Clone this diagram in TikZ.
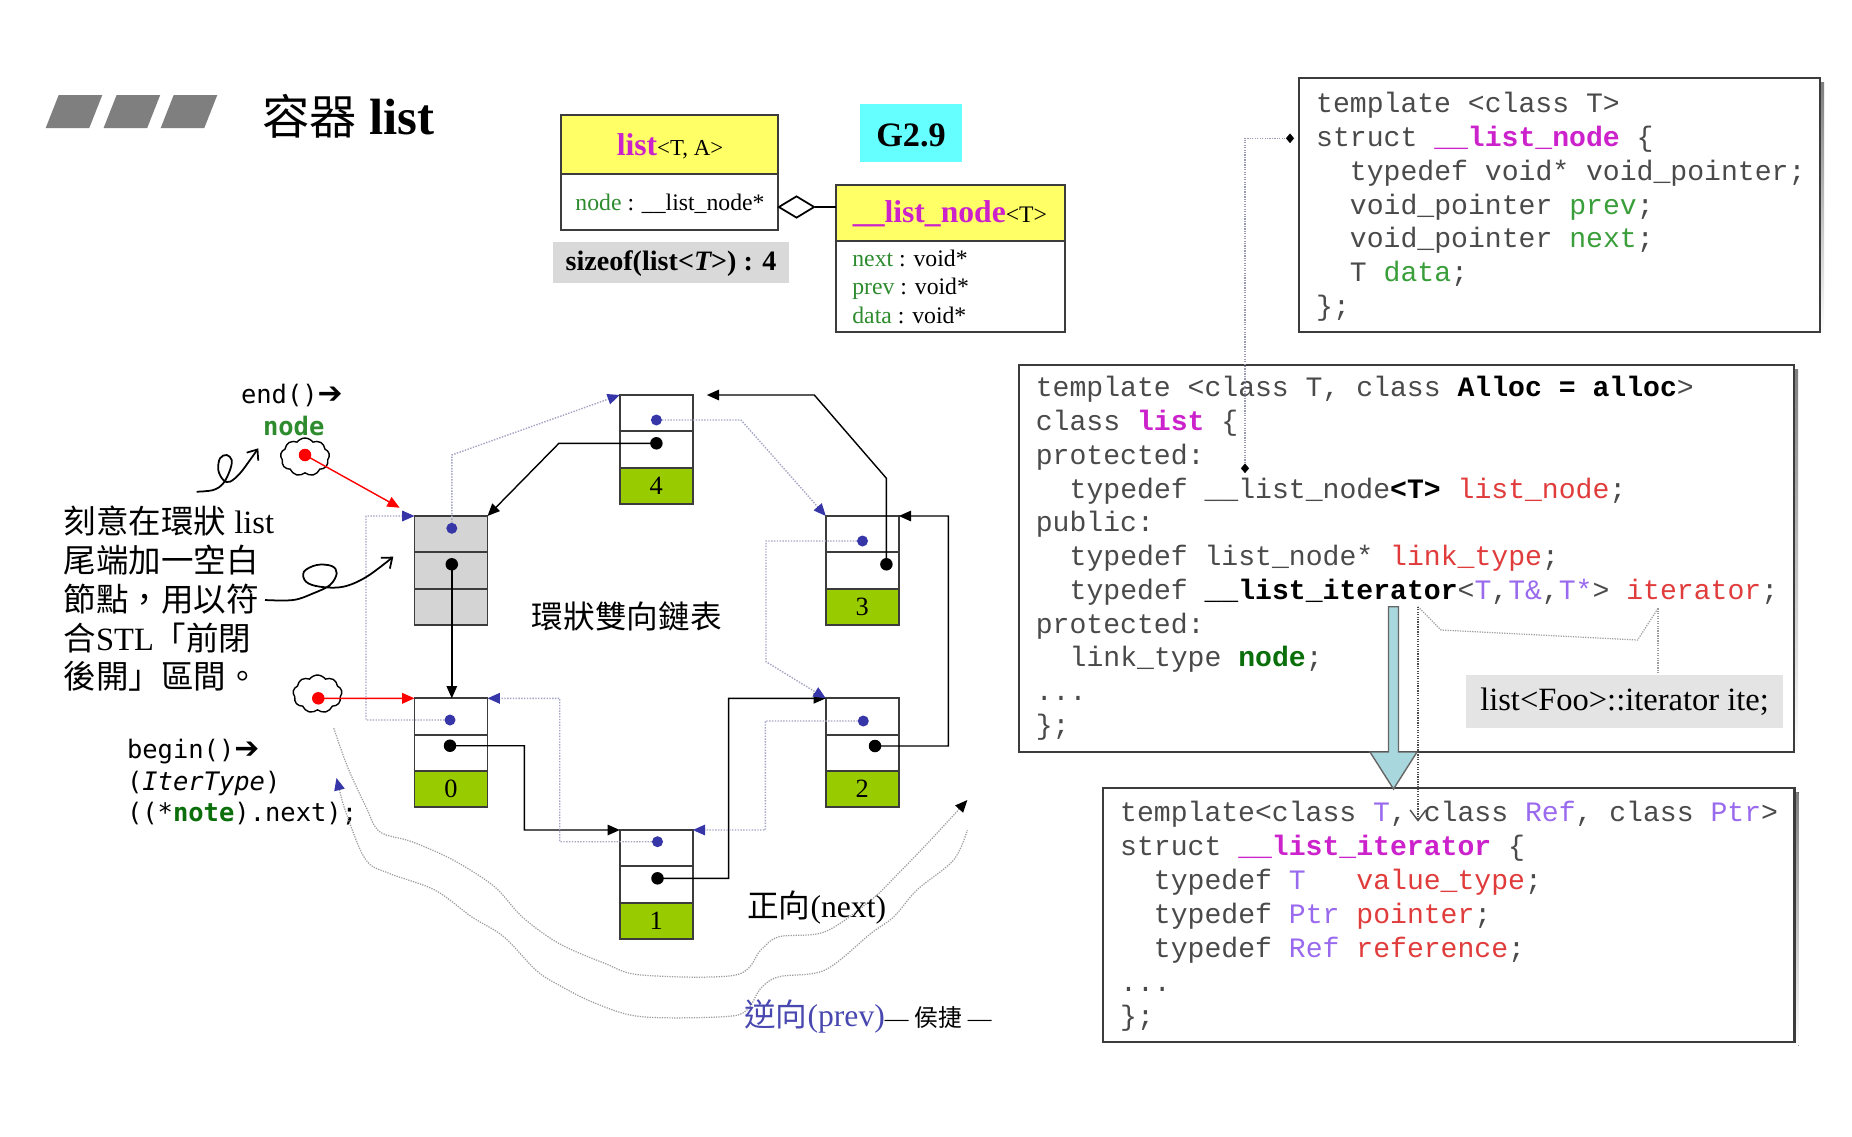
\documentclass[tikz,border=0pt]{standalone}
\usepackage{fontspec}
\setmainfont{Liberation Serif}
\setmonofont{Liberation Mono}
\newfontfamily\cjk{Noto Sans CJK TC}
\newfontfamily\dmono{DejaVu Sans Mono}[ItalicFont={DejaVu Sans Mono Oblique},BoldFont={DejaVu Sans Mono Bold}]
\newfontfamily\dsans{DejaVu Sans}
\usetikzlibrary{arrows.meta,shapes.symbols,shapes.geometric,calc}

\definecolor{mag}{HTML}{CC22CC}
\definecolor{ugreen}{HTML}{2E8B2E}
\definecolor{cgreen}{HTML}{3A9E3A}
\definecolor{dgreen}{HTML}{0A6E0A}
\definecolor{cred}{HTML}{E03C3C}
\definecolor{cpur}{HTML}{9A6AEE}
\definecolor{cgray}{HTML}{4A4A4A}
\definecolor{uyellow}{HTML}{FFFF66}
\definecolor{ucyan}{HTML}{66FFFF}
\definecolor{lgray}{HTML}{D9D9D9}
\definecolor{lblgray}{HTML}{E4E4E4}
\definecolor{ngray}{HTML}{D4D4D4}
\definecolor{datagreen}{HTML}{99CC00}
\definecolor{dotblue}{HTML}{3636A8}
\definecolor{prevgray}{HTML}{A4A4C4}
\definecolor{wavegray}{HTML}{9C9C9C}
\definecolor{arrcyan}{HTML}{A8D8DE}
\definecolor{shade}{HTML}{8A8A8A}
\definecolor{prevtxt}{HTML}{4848B0}
\definecolor{border}{HTML}{3C3C3C}
\definecolor{titlegray}{HTML}{7F7F7F}

\newcommand\zh[1]{{\cjk #1}}
% one list node: name, x, top, cell fill, data fill, label
\newcommand\mkListNode[6]{%
  \node[cell,fill=#4] (#1-p) at (#2,#3+18.15) {};
  \node[cell,fill=#4] (#1-n) at (#2,#3+54.45) {};
  \node[cell,fill=#5,font=\fontsize{15}{17}\selectfont] (#1-d) at (#2,#3+90.75) {#6};}
% one line of source code: name, x, baseline, text
\newcommand\codeln[4]{\node[codetext] (#1) at (#2,#3) {#4};}

\begin{document}
\begin{tikzpicture}[x=0.02cm,y=-0.02cm,
  cell/.style={draw=border,line width=1.1pt,minimum width=1.46cm,minimum height=0.726cm,inner sep=0,outer sep=0},
  bdot/.style={circle,fill=dotblue,inner sep=0,minimum size=0.22cm},
  kdot/.style={circle,fill=black,inner sep=0,minimum size=0.25cm},
  rdot/.style={circle,fill=red,inner sep=0,minimum size=0.25cm},
  nextln/.style={draw=black,line width=0.8pt,-{Triangle[length=7pt,width=6pt]}},
  prevln/.style={draw=prevgray,line width=0.8pt,dash pattern=on 0.8pt off 0.8pt,-{Triangle[length=7pt,width=6pt,color=dotblue]}},
  redln/.style={draw=red,line width=0.8pt,-{Triangle[length=7pt,width=6pt]}},
  wave/.style={draw=wavegray,line width=0.7pt,dash pattern=on 0.7pt off 0.7pt},
  cloudsh/.style={cloud,draw=black,line width=0.8pt,cloud puffs=9,cloud puff arc=110,minimum width=0.98cm,minimum height=0.76cm,inner sep=0},
  codetext/.style={anchor=base west,inner sep=0,text=cgray,font=\ttfamily\fontsize{16}{19}\selectfont},
  boxline/.style={draw=border,line width=1.2pt,fill=white},
  dmd/.style={diamond,fill=black,inner sep=0,minimum width=0.17cm,minimum height=0.2cm},
  squig/.style={draw=black,line width=1pt,-{Straight Barb[length=5pt,width=8pt]}},
  txt/.style={inner sep=0}]

\useasboundingbox (0,0) rectangle (1852,1136);
\fill[white] (0,0) rectangle (1852,1136);

% ---------- title ----------
\foreach \i/\xx in {0/45.7,1/103.6,2/160.7}
  \fill[titlegray] (\xx,128) -- (\xx+43.6,128) -- (\xx+56.6,95) -- (\xx+13,95) -- cycle;
\node[txt,anchor=base west,font=\fontsize{27}{30}\selectfont] (title) at (262,134) {\zh{容器} {\fontsize{29}{30}\selectfont\bfseries list}};

% ---------- class diagram ----------
\fill[uyellow] (561,115) rectangle (778,173.6);
\draw[border,line width=1.1pt] (561,115) rectangle (778,230);
\draw[border,line width=1.1pt] (561,173.6) -- (778,173.6);
\node[txt,anchor=base] (lstname) at (670,155) {{\color{mag}\bfseries\fontsize{18}{20}\selectfont list}{\fontsize{13}{15}\selectfont <T, A>}};
\node[txt,anchor=base,font=\fontsize{13.5}{15}\selectfont] (lstfield) at (670,210) {{\color{ugreen}node} : \_\_list\_node*};

\fill[lgray] (553,241.5) rectangle (789,283);
\node[txt,anchor=base,font=\fontsize{16}{18}\selectfont] (sz) at (671,270) {\bfseries sizeof(list<{\itshape T}>) : 4};

\fill[ucyan] (859.5,103.5) rectangle (962,161.5);
\node[txt,anchor=base,font=\fontsize{19.5}{22}\selectfont] (ver) at (911,146) {\bfseries G2.9};

\fill[uyellow] (836,185) rectangle (1065,241);
\draw[border,line width=1.1pt] (836,185) rectangle (1065,332);
\draw[border,line width=1.1pt] (836,241) -- (1065,241);
\node[txt,anchor=base] (lnname) at (950,222) {{\color{mag}\bfseries\fontsize{18}{20}\selectfont \_\_list\_node}{\fontsize{13.5}{15}\selectfont <T>}};
\node[txt,anchor=base west,font=\fontsize{13.5}{15}\selectfont] (fnext) at (852,266) {{\color{ugreen}next} : void*};
\node[txt,anchor=base west,font=\fontsize{13.5}{15}\selectfont] (fprev) at (852,294.5) {{\color{ugreen}prev} : void*};
\node[txt,anchor=base west,font=\fontsize{13.5}{15}\selectfont] (fdata) at (852,323) {{\color{ugreen}data} : void*};

\node[diamond,draw=black,line width=1pt,fill=white,inner sep=0,minimum width=0.72cm,minimum height=0.44cm] (agg) at (796.5,207) {};
\draw[black,line width=1pt] (agg.east) -- (836,207);

% ---------- source code boxes ----------
\fill[shade] (1303,82.3) rectangle (1824,335.7);
\draw[boxline] (1299,78.3) rectangle (1820,331.7);
\codeln{a1}{1315.8}{112.5}{template <class T>}
\codeln{a2}{1315.8}{146.3}{struct {\bfseries\color{mag}\_\_list\_node} \{}
\codeln{a3}{1349.6}{180.2}{typedef void* void\_pointer;}
\codeln{a4}{1349.6}{214}{void\_pointer {\color{cgreen}prev};}
\codeln{a5}{1349.6}{247.9}{void\_pointer {\color{cgreen}next};}
\codeln{a6}{1349.6}{281.7}{T {\color{cgreen}data};}
\codeln{a7}{1315.8}{315.6}{\};}

\fill[shade] (1023,369) rectangle (1798,756);
\draw[boxline] (1019,365) rectangle (1794,752);
\codeln{b1}{1035.5}{396.8}{template <class T, class {\bfseries\color{black}Alloc = alloc}>}
\codeln{b2}{1035.5}{430.5}{class {\bfseries\color{mag}list} \{}
\codeln{b3}{1035.5}{464.3}{protected:}
\codeln{b4}{1069.3}{498}{typedef \_\_list\_node{\bfseries\color{black}<T>} {\color{cred}list\_node};}
\codeln{b5}{1035.5}{531.8}{public:}
\codeln{b6}{1069.3}{565.5}{typedef list\_node* {\color{cred}link\_type};}
\codeln{b7}{1069.3}{599.3}{typedef {\bfseries\color{black}\_\_list\_iterator}<{\color{cpur}T},{\color{cpur}T\&},{\color{cpur}T*}> {\color{cred}iterator};}
\codeln{b8}{1035.5}{633}{protected:}
\codeln{b9}{1069.3}{666.8}{link\_type {\bfseries\color{dgreen}node};}
\codeln{b10}{1035.5}{700.5}{...}
\codeln{b11}{1035.5}{734.3}{\};}

\fill[shade] (1107,792.3) rectangle (1798.5,1045.7);
\draw[boxline] (1103,788.3) rectangle (1794.5,1041.7);
\codeln{c1}{1119.8}{821.8}{template<class {\color{cpur}T}, class {\color{cpur}Ref}, class {\color{cpur}Ptr}>}
\codeln{c2}{1119.8}{855.7}{struct {\bfseries\color{mag}\_\_list\_iterator} \{}
\codeln{c3}{1153.6}{889.6}{typedef {\color{cpur}T}~~~{\color{cred}value\_type};}
\codeln{c4}{1153.6}{923.5}{typedef {\color{cpur}Ptr} {\color{cred}pointer};}
\codeln{c5}{1153.6}{957.4}{typedef {\color{cpur}Ref} {\color{cred}reference};}
\codeln{c6}{1119.8}{991.3}{...}
\codeln{c7}{1119.8}{1025.2}{\};}

% link from struct __list_node to its typedef
\node[dmd] (dA) at (1290,138.3) {};
\node[dmd] (dB) at (1245,468.3) {};
\draw[prevgray!70!gray,line width=0.7pt,dash pattern=on 0.7pt off 0.7pt] (dA) -- (1245,138.3) -- (dB);

% iterator label
\node[fill=lblgray,inner sep=0,minimum width=6.34cm,minimum height=1.066cm,
      font=\fontsize{18.5}{20}\selectfont] (itelbl) at (1624.5,701.7) {list<Foo>::iterator ite;};
\coordinate (itT) at (1418,606.7);
\coordinate (itE) at (1658,608.3);
\draw[wavegray,line width=0.7pt,dash pattern=on 0.7pt off 0.7pt] (itT) -- (1441,630) -- (1637.6,640) -- (itE);
\draw[wavegray,line width=0.7pt,dash pattern=on 0.7pt off 0.7pt] (itE) -- (itE |- itelbl.north);

% big arrow from the typedef down to __list_iterator
\draw[draw=gray!80!black,line width=0.8pt,fill=arrcyan]
  (1388.5,606.7) -- (1398.5,606.7) -- (1398.5,752) -- (1417,752) -- (1393.5,789)
  -- (1370,752) -- (1388.5,752) -- cycle;
\draw[gray!60!black,line width=0.7pt,dash pattern=on 0.7pt off 0.7pt,
      -{Straight Barb[length=6pt,width=9pt,line width=0.8pt]}] (itT) -- (1418,821.7);

% ---------- circular list ----------
\mkListNode{E}{451}{516}{ngray}{ngray}{}
\mkListNode{N4}{656.3}{395}{white}{datagreen}{4}
\mkListNode{N3}{862.3}{516}{white}{datagreen}{3}
\mkListNode{N0}{451}{698.3}{white}{datagreen}{0}
\mkListNode{N2}{862.3}{698.3}{white}{datagreen}{2}
\mkListNode{N1}{656.3}{830}{white}{datagreen}{1}

\coordinate (E-b) at (451.8,528.3);  \coordinate (E-k) at (451.8,564.3);
\coordinate (N4-b) at (656.4,420);   \coordinate (N4-k) at (656.4,443.3);
\coordinate (N3-b) at (862.5,541);   \coordinate (N3-k) at (886.4,564.3);
\coordinate (N0-b) at (450,720);     \coordinate (N0-k) at (450,745.7);
\coordinate (N2-b) at (863.3,721);   \coordinate (N2-k) at (875,746);
\coordinate (N1-b) at (657.5,841.7); \coordinate (N1-k) at (657.5,878.3);

% next pointers
\draw[nextln] (E-k) -- (E-k |- N0-p.north);
\draw[nextln] (N0-k) -- (524.3,745.7) -- (524.3,830) -- (N1-p.north west);
\draw[nextln] (N1-k) -- (728.6,878.3) -- (728.6,698.3) -- (N2-p.north west);
\draw[nextln] (N2-k) -- (948.3,746) -- (948.3,516) -- (N3-p.north east);
\draw[nextln,shorten >=0.28cm] (N3-k) -- (886.4,478.3) -- (814.3,395) -- (N4-p.north east);
\draw[nextln] (N4-k) -- (558.9,443.3) -- (E-p.north east);

% prev pointers
\draw[prevln] (E-b) -- (451.8,455) -- (N4-p.north west);
\draw[prevln] (N4-b) -- (741,420) -- (N3-p.north west);
\draw[prevln] (N3-b) -- (766,541) -- (766,661.7) -- (N2-p.north west);
\draw[prevln] (N2-b) -- (765.4,721) -- (765.4,830) -- (N1-p.north east);
\draw[prevln] (N1-b) -- (559.7,841.7) -- (559.7,698.3) -- (N0-p.north east);
\draw[prevln] (N0-b) -- (366,720) -- (366,516) -- (E-p.north west);

\foreach \n in {E,N4,N3,N0,N2,N1}{
  \node[bdot] (\n-bd) at (\n-b) {};
  \node[kdot] (\n-kd) at (\n-k) {};
}

\node[txt,font=\fontsize{18}{20}\selectfont] (ring) at (626.8,616.7) {\zh{環狀雙向鏈表}};

% ---------- end() / begin() ----------
\node[txt,anchor=base west,font=\fontsize{14.5}{17}\selectfont] (endtxt) at (240.7,403.3) {{\dmono end()}{\dsans\bfseries\fontsize{17}{17}\selectfont ➔}};
\node[txt,anchor=base west,font=\fontsize{14.5}{17}\selectfont] (nodetxt) at (262.7,435) {\dmono\bfseries\color{ugreen}node};
\node[cloudsh] (cl1) at (305,457) {};
\coordinate (R1) at (305,455);
\draw[redln,shorten >=0.34cm] (R1) -- (E-p.north west);
\node[rdot] (R1d) at (R1) {};

\node[cloudsh] (cl2) at (317.5,694) {};
\coordinate (R2) at (318.3,698.3);
\draw[redln] (R2) -- (N0-p.north west);
\node[rdot] (R2d) at (R2) {};

\node[txt,anchor=base west,font=\fontsize{14.5}{17}\selectfont] (beg1) at (126.7,758.3) {{\dmono begin()}{\dsans\bfseries\fontsize{17}{17}\selectfont ➔}};
\node[txt,anchor=base west,font=\fontsize{14.5}{17}\selectfont] (beg2) at (126.7,790) {\dmono ({\itshape IterType})};
\node[txt,anchor=base west,font=\fontsize{14.5}{17}\selectfont] (beg3) at (126.7,821.7) {\dmono ((*{\bfseries\color{dgreen}note}).next);};

% ---------- explanation ----------
\node[txt,anchor=base west,font=\fontsize{18.5}{20}\selectfont] (ex1) at (63.3,533.7) {\zh{刻意在環狀} list};
\node[txt,anchor=base west,font=\fontsize{18.5}{20}\selectfont] (ex2) at (63.3,572.5) {\zh{尾端加一空白}};
\node[txt,anchor=base west,font=\fontsize{18.5}{20}\selectfont] (ex3) at (63.3,611) {\zh{節點，用以符}};
\node[txt,anchor=base west,font=\fontsize{18.5}{20}\selectfont] (ex4) at (63.3,650) {\zh{合}STL\zh{「前閉}};
\node[txt,anchor=base west,font=\fontsize{18.5}{20}\selectfont] (ex5) at (63.3,688.7) {\zh{後開」區間。}};

\draw[squig] plot[smooth,tension=0.6] coordinates {(196.7,491.7) (213.3,490) (223.3,483.3) (230,470) (231.7,460) (226.7,455) (220,458.3) (218.3,470) (223.3,480) (230,481.7) (240,473.3) (250,460) (258.3,448.3)};
\draw[squig] plot[smooth,tension=0.6] coordinates {(265,600) (293.3,600) (313.3,593.3) (330,585) (336.7,573.3) (331.7,566) (316.7,565) (304,571.7) (306,581.7) (320,586.7) (343.3,586.7) (366.7,576.7) (393.3,556.7)};

% ---------- traversal directions ----------
\draw[wave,-{Triangle[length=7pt,width=6pt,color=black]}] plot[smooth,tension=0.55] coordinates {(333.8,728.3) (347.5,766.7) (365.9,806.7) (379.7,831.7) (411.8,841.7) (453.1,860) (494.5,886.7) (522,916.7) (558.7,943.3) (604.7,963.3) (641.4,975) (735.5,975) (760.8,950) (779.1,936.7) (825,931.7) (871,900) (898.5,873.3) (930.6,840) (967.4,800)};
\draw[wave,{Triangle[length=7pt,width=6pt,color=dotblue]}-] plot[smooth,tension=0.55] coordinates {(336.5,778) (347.5,816.7) (365.9,860) (388.9,873.3) (434.8,890) (471.5,916.7) (503.7,936.7) (535.8,970) (558.7,985) (595.5,1003.3) (641.4,1016.7) (724,1016.7) (747,1010) (760.8,988.3) (779.1,976.7) (825,970) (871,933.3) (893.9,916.7) (916.9,890) (953.6,860) (967.4,830)};

\node[txt,anchor=west,font=\fontsize{18}{20}\selectfont] (fwd) at (747,908) {\zh{正向}(next)};
\node[txt,anchor=west,font=\fontsize{18}{20}\selectfont] (bwd) at (744,1016) {{\color{prevtxt}\zh{逆向}(prev)}{\fontsize{13.5}{15}\selectfont — \zh{侯捷} —}};

\end{tikzpicture}
\end{document}
